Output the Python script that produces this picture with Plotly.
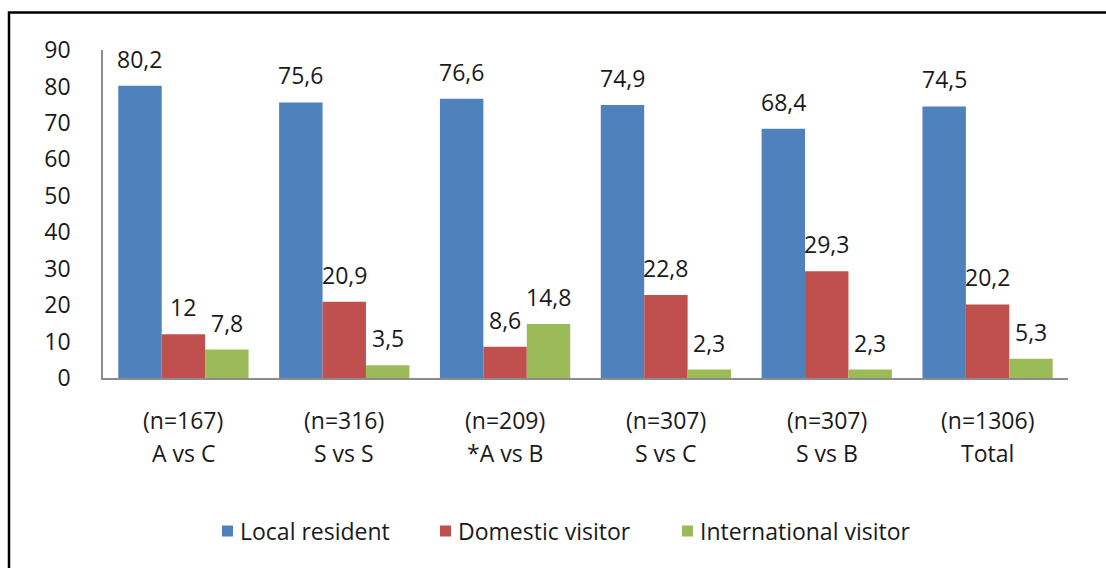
import plotly.graph_objects as go

# Survey groups (sample size line + comparison line)
sample_sizes = ["(n=167)", "(n=316)", "(n=209)", "(n=307)", "(n=307)", "(n=1306)"]
groups = ["A vs C", "S vs S", "*A vs B", "S vs C", "S vs B", "Total"]

series_names = ["Local resident", "Domestic visitor", "International visitor"]
local_resident = [80.2, 75.6, 76.6, 74.9, 68.4, 74.5]
domestic_visitor = [12, 20.9, 8.6, 22.8, 29.3, 20.2]
international_visitor = [7.8, 3.5, 14.8, 2.3, 2.3, 5.3]

colors = ["#4F81BD", "#C0504D", "#9BBB59"]
FONT = "Open Sans"
FSIZE = 23
TEXT_COLOR = "#1a1a1a"

# Plot geometry (pixels)
W, H = 1106, 568
M_L, M_R, M_T, M_B = 103, 38, 50, 190
BARGAP = 0.19
plot_w = W - M_L - M_R
plot_h = H - M_T - M_B
bar_px = plot_w / len(groups) * (1 - BARGAP) / len(series_names)

values = [local_resident, domestic_visitor, international_visitor]
cats = list(range(len(groups)))


def fmt(v):
    return f"{v:g}".replace(".", ",")


def px_x(px):
    return (px - M_L) / plot_w


def px_y(py):
    return (M_T + plot_h - py) / plot_h


fig = go.Figure()
for name, vals, col in zip(series_names, values, colors):
    fig.add_trace(go.Bar(x=cats, y=vals, name=name, showlegend=False,
                         marker=dict(color=col, line=dict(width=0))))

font = dict(family=FONT, size=FSIZE, color=TEXT_COLOR)
annotations = []
# Value labels above each bar
for k, vals in enumerate(values):
    shift = (k - (len(values) - 1) / 2) * bar_px
    for i, v in enumerate(vals):
        annotations.append(dict(
            x=cats[i], y=v, xref="x", yref="y", text=fmt(v), showarrow=False,
            xanchor="center", yanchor="bottom", xshift=shift, yshift=9, font=font,
        ))

# Two-line category labels below the axis
for i in cats:
    annotations.append(dict(
        x=cats[i], y=px_y(420), xref="x", yref="paper", text=sample_sizes[i],
        showarrow=False, xanchor="center", yanchor="middle", font=font,
    ))
    annotations.append(dict(
        x=cats[i], y=px_y(453), xref="x", yref="paper", text=groups[i],
        showarrow=False, xanchor="center", yanchor="middle", font=font,
    ))

shapes = []
# Legend: colour swatch followed by series name
legend_x = [222, 440, 682]
legend_y = 531
sw = 11
for name, col, lx in zip(series_names, colors, legend_x):
    shapes.append(dict(
        type="rect", xref="paper", yref="paper",
        x0=px_x(lx), x1=px_x(lx + sw), y0=px_y(legend_y + sw / 2), y1=px_y(legend_y - sw / 2),
        fillcolor=col, line=dict(width=0),
    ))
    annotations.append(dict(
        x=px_x(lx + sw + 5), y=px_y(legend_y), xref="paper", yref="paper", text=name,
        showarrow=False, xanchor="left", yanchor="middle", font=font,
    ))

# Outer chart frame
shapes.append(dict(
    type="rect", xref="paper", yref="paper",
    x0=px_x(9), x1=1.5, y0=-2, y1=px_y(12.5),
    line=dict(color="#000000", width=2.5), fillcolor="rgba(0,0,0,0)", layer="above",
))

fig.update_layout(
    width=W, height=H,
    margin=dict(l=M_L, r=M_R, t=M_T, b=M_B),
    paper_bgcolor="white", plot_bgcolor="white",
    barmode="group", bargap=BARGAP, bargroupgap=0,
    font=font,
    showlegend=False,
    xaxis=dict(
        range=[-0.5, len(groups) - 0.5], showticklabels=False, ticks="",
        showline=True, linecolor="#8c8c8c", linewidth=1.5, showgrid=False, zeroline=False,
        fixedrange=True,
    ),
    yaxis=dict(
        range=[0, 90], dtick=10, tick0=0, showline=True, linecolor="#8c8c8c", linewidth=1.5,
        showgrid=False, zeroline=False, ticks="", ticklabelstandoff=26,
        tickfont=font, fixedrange=True,
    ),
    annotations=annotations,
    shapes=shapes,
)

fig.write_html("out.html")
